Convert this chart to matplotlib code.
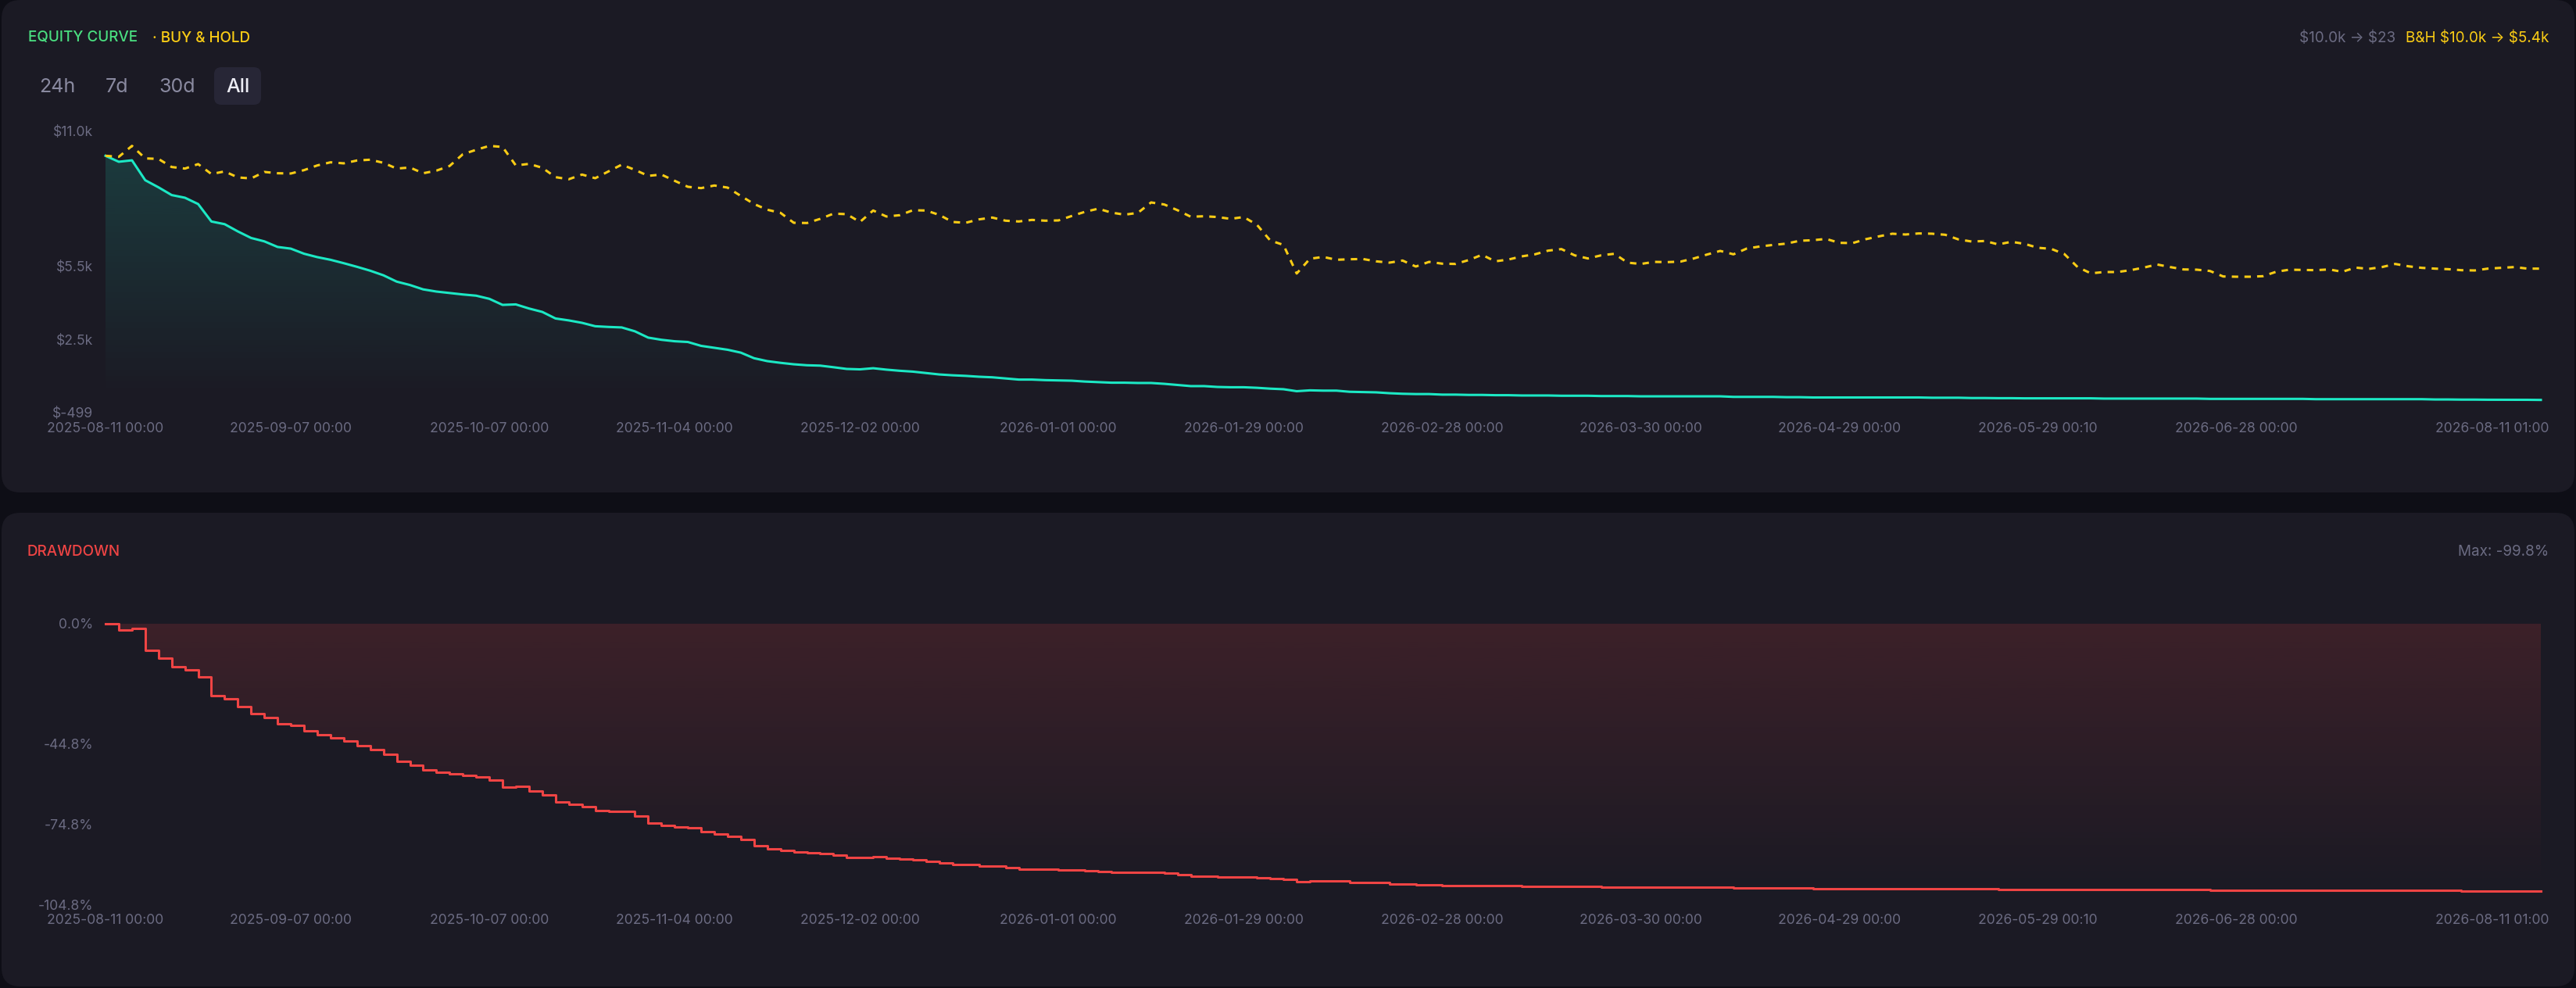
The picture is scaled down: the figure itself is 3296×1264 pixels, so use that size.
import numpy as np
import matplotlib
matplotlib.use('Agg')
import matplotlib.pyplot as plt
from matplotlib.patches import FancyBboxPatch
from matplotlib.transforms import ScaledTranslation
from matplotlib.colors import to_rgb

# ---------------- data ----------------
equity = [
    10000, 9756, 9815, 9002, 8712, 8395, 8286, 8028, 7315, 7206,
    6909, 6642, 6503, 6275, 6206, 5998, 5859, 5750, 5611, 5463,
    5304, 5116, 4858, 4720, 4541, 4452, 4393, 4333, 4284, 4155,
    3907, 3927, 3759, 3620, 3352, 3273, 3174, 3035, 3006, 2986,
    2827, 2570, 2481, 2421, 2391, 2233, 2154, 2074, 1956, 1728,
    1609, 1539, 1480, 1440, 1425, 1360, 1290, 1273, 1319, 1261,
    1215, 1180, 1122, 1064, 1030, 1006, 971, 948, 902, 855,
    855, 832, 820, 809, 774, 751, 728, 728, 716, 716,
    681, 635, 588, 588, 554, 542, 542, 519, 484, 461,
    380, 415, 403, 403, 356, 345, 333, 298, 275, 263,
    263, 240, 240, 228, 228, 217, 217, 205, 205, 205,
    194, 194, 194, 182, 182, 182, 171, 171, 171, 171,
    171, 171, 171, 148, 148, 148, 148, 136, 136, 124,
    124, 124, 124, 124, 124, 124, 124, 124, 113, 113,
    113, 101, 101, 95, 95, 89, 89, 89, 89, 89,
    89, 78, 78, 78, 78, 78, 78, 78, 78, 66,
    66, 66, 66, 66, 66, 66, 66, 54, 54, 54,
    54, 54, 54, 54, 54, 54, 42, 42, 36, 36,
    31, 31, 31, 28, 23,
]

buy_hold = [
    10000, 9957, 10405, 9894, 9872, 9542, 9478, 9660, 9255, 9361,
    9116, 9074, 9340, 9287, 9276, 9414, 9606, 9734, 9691, 9808,
    9840, 9712, 9478, 9521, 9287, 9393, 9585, 10064, 10245, 10405,
    10362, 9606, 9670, 9510, 9127, 9042, 9233, 9084, 9361, 9638,
    9425, 9180, 9233, 8978, 8733, 8679, 8786, 8700, 8360, 8030,
    7796, 7668, 7263, 7253, 7423, 7636, 7615, 7295, 7764, 7519,
    7572, 7775, 7764, 7583, 7295, 7263, 7402, 7476, 7348, 7316,
    7380, 7348, 7359, 7540, 7710, 7838, 7679, 7593, 7668, 8094,
    8009, 7775, 7508, 7530, 7498, 7423, 7498, 7178, 6539, 6358,
    5190, 5793, 5868, 5751, 5772, 5783, 5687, 5633, 5719, 5474,
    5665, 5591, 5580, 5740, 5953, 5687, 5761, 5889, 5974, 6124,
    6188, 5932, 5804, 5932, 5996, 5633, 5580, 5665, 5655, 5676,
    5804, 5964, 6113, 5974, 6209, 6294, 6358, 6411, 6528, 6550,
    6603, 6443, 6432, 6592, 6709, 6816, 6784, 6827, 6816, 6773,
    6582, 6496, 6518, 6379, 6486, 6400, 6241, 6198, 5985, 5453,
    5197, 5250, 5250, 5325, 5431, 5559, 5453, 5357, 5346, 5293,
    5069, 5058, 5058, 5080, 5260, 5346, 5335, 5325, 5357, 5260,
    5431, 5378, 5453, 5580, 5484, 5421, 5389, 5367, 5325, 5314,
    5389, 5421, 5453, 5389, 5389,
]

tick_idx = [0, 14, 29, 43, 57, 72, 86, 101, 116, 131, 146, 161, 184]
tick_labels = ['2025-08-11 00:00', '2025-09-07 00:00', '2025-10-07 00:00',
               '2025-11-04 00:00', '2025-12-02 00:00', '2026-01-01 00:00',
               '2026-01-29 00:00', '2026-02-28 00:00', '2026-03-30 00:00',
               '2026-04-29 00:00', '2026-05-29 00:10', '2026-06-28 00:00',
               '2026-08-11 01:00']

eq_yticks = [-499, 2500, 5500, 11000]
eq_ylabels = [r'\$-499', r'\$2.5k', r'\$5.5k', r'\$11.0k']
dd_yticks = [-104.8, -74.8, -44.8, 0.0]
dd_ylabels = ['-104.8%', '-74.8%', '-44.8%', '0.0%']

ranges = ['24h', '7d', '30d', 'All']

# ---------------- style ----------------
PAGE = '#0e0e16'
PANEL = '#1b1a24'
TEAL = '#1ce8c4'
GOLD = '#facc15'
RED = '#ef4444'
GREEN = '#4ade80'
TICK = '#6b6b82'
BTN = '#8a8aa0'

W, H, DPI = 3296, 1264, 200
plt.rcParams['font.family'] = ['Inter', 'DejaVu Sans']

fig = plt.figure(figsize=(W / DPI, H / DPI), dpi=DPI, facecolor=PAGE)


def fx(px):
    return px / W


def fy(py):
    return 1 - py / H


def rbox(x0, y0, x1, y1, r, color):
    p = FancyBboxPatch((x0 / DPI, (H - y1) / DPI), (x1 - x0) / DPI, (y1 - y0) / DPI,
                       boxstyle=f'round,pad=0,rounding_size={r / DPI}',
                       transform=fig.dpi_scale_trans, facecolor=color,
                       edgecolor='none', zorder=0)
    fig.add_artist(p)


rbox(2, 0, 3294, 630, 24, PANEL)
rbox(2, 656, 3294, 1262, 24, PANEL)
rbox(274, 86, 334, 134, 9, '#272636')

# header texts
fs_small = 6.8
fig.text(fx(36), fy(53.5), 'EQUITY CURVE', color=GREEN, fontsize=fs_small,
         fontweight='medium', va='baseline', ha='left')
fig.text(fx(195), fy(53.5), '· BUY & HOLD', color=GOLD, fontsize=fs_small,
         fontweight='medium', va='baseline', ha='left')
fig.text(fx(3261), fy(54.5), r'B&H \$10.0k → \$5.4k', color=GOLD, fontsize=fs_small,
         va='baseline', ha='right')
fig.text(fx(3065), fy(54.5), r'\$10.0k → \$23', color=TICK, fontsize=fs_small,
         va='baseline', ha='right')

btn_x = [73.5, 149.5, 226.5, 304]
for lab, bx in zip(ranges, btn_x):
    fig.text(fx(bx), fy(118), lab, color=('#ececf4' if lab == 'All' else BTN),
             fontsize=9, va='baseline', ha='center',
             fontweight=('medium' if lab == 'All' else 'normal'))

fig.text(fx(35), fy(710.5), 'DRAWDOWN', color=RED, fontsize=fs_small,
         fontweight='medium', va='baseline', ha='left')
fig.text(fx(3261), fy(710.5), 'Max: -99.8%', color=TICK, fontsize=fs_small,
         va='baseline', ha='right')

# ---------------- axes ----------------
ax1 = fig.add_axes([fx(135), fy(528), 3116 / W, 360 / H])
ax2 = fig.add_axes([fx(135), fy(1157.3), 3116 / W, 359.3 / H])

eq = np.array(equity, dtype=float)
bh = np.array(buy_hold, dtype=float)
x = np.arange(len(eq))
peak = np.maximum.accumulate(eq)
dd = (eq / peak - 1.0) * 100.0


def grad_fill(ax, xv, yv, base, color, a_top, a_bot, ylo, yhi, step=None):
    coll = ax.fill_between(xv, yv, base, step=step, facecolor='none',
                           edgecolor='none', linewidth=0)
    n = 256
    img = np.zeros((n, 1, 4))
    img[:, :, :3] = to_rgb(color)
    img[:, 0, 3] = np.linspace(a_bot, a_top, n)
    im = ax.imshow(img, extent=[xv[0], xv[-1], ylo, yhi], origin='lower',
                   aspect='auto', zorder=1, interpolation='bilinear')
    im.set_clip_path(coll.get_paths()[0], ax.transData)


for ax in (ax1, ax2):
    ax.set_facecolor('none')
    for s in ax.spines.values():
        s.set_visible(False)

grad_fill(ax1, x, eq, 0, TEAL, 0.16, 0.0, 0, eq.max())
ax1.plot(x, eq, color=TEAL, lw=1.1, zorder=3, clip_on=False,
         solid_joinstyle='round')
ax1.plot(x, bh, color=GOLD, lw=1.1, zorder=4, clip_on=False,
         dashes=(2.7, 2.6), dash_capstyle='butt')
ax1.set_xlim(0, len(eq) - 1)
ax1.set_ylim(-499, 11000)
ax1.set_yticks(eq_yticks)
ax1.set_yticklabels(eq_ylabels)

grad_fill(ax2, x, dd, 0, RED, 0.16, 0.0, dd.min(), 0, step='post')
ax2.step(x, dd, where='post', color=RED, lw=1.1, zorder=3, clip_on=False)
ax2.set_xlim(0, len(eq) - 1)
ax2.set_ylim(-104.8, 0)
ax2.set_yticks(dd_yticks)
ax2.set_yticklabels(dd_ylabels)

for ax in (ax1, ax2):
    ax.set_xticks(tick_idx)
    ax.set_xticklabels(tick_labels)
    ax.tick_params(axis='both', length=0, colors=TICK, labelsize=6.3)
    ax.tick_params(axis='x', pad=4.2)
    ax.tick_params(axis='y', pad=5.8)
    last = ax.get_xticklabels()[-1]
    last.set_horizontalalignment('right')
    last.set_transform(last.get_transform() +
                       ScaledTranslation(11 / DPI, 0, fig.dpi_scale_trans))

fig.savefig('out.png', dpi=DPI, facecolor=PAGE)
